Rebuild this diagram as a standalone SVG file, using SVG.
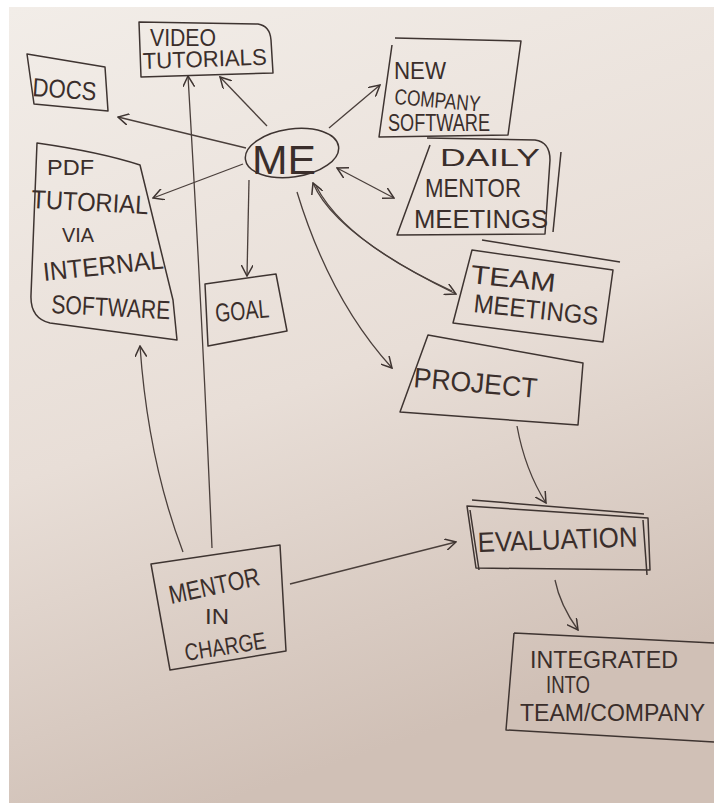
<svg xmlns="http://www.w3.org/2000/svg" width="714" height="803" viewBox="0 0 714 803">
<defs>
<linearGradient id="bg" x1="0" y1="0" x2="0.3" y2="1">
<stop offset="0" stop-color="#f2ede8"/>
<stop offset="0.55" stop-color="#e8ded7"/>
<stop offset="1" stop-color="#d0c0b6"/>
</linearGradient>
<marker id="ah" viewBox="0 0 12 12" refX="11" refY="6" markerWidth="12" markerHeight="12" markerUnits="userSpaceOnUse" orient="auto-start-reverse">
<path d="M0,0 L11,6 L0,12" fill="none" stroke="#3e3431" stroke-width="1.5"/>
</marker>
</defs>
<style>
.box{fill:none;stroke:#3e3431;stroke-width:1.5;stroke-linejoin:round}
.edge{fill:none;stroke:#4a3f3b;stroke-width:1.3}
.lbl{font-family:"Liberation Sans",Arial,sans-serif;fill:#3a2e2b;font-weight:normal}
</style>
<rect x="0" y="0" width="714" height="803" fill="#ffffff"/>
<rect x="9" y="7" width="705" height="796" fill="url(#bg)"/>

<g id="connectors">
<path class="edge" d="M246,148 L118,117" marker-end="url(#ah)"/>
<path class="edge" d="M243,164 L153,198" marker-end="url(#ah)"/>
<path class="edge" d="M267,126 L220,77" marker-end="url(#ah)"/>
<path class="edge" d="M212,548 Q203,330 188,76" marker-end="url(#ah)"/>
<path class="edge" d="M183,552 Q148,460 140,346" marker-end="url(#ah)"/>
<path class="edge" d="M329,128 L380,85" marker-end="url(#ah)"/>
<path class="edge" d="M337,168 L394,198" marker-start="url(#ah)" marker-end="url(#ah)"/>
<path class="edge" d="M313,183 Q335,235 456,294" marker-start="url(#ah)" marker-end="url(#ah)"/>
<path class="edge" d="M316,186 Q345,242 452,291"/>
<path class="edge" d="M297,192 Q330,300 392,368" marker-end="url(#ah)"/>
<path class="edge" d="M249,180 L247,276" marker-end="url(#ah)"/>
<path class="edge" d="M517,426 Q525,470 546,503" marker-end="url(#ah)"/>
<path class="edge" d="M290,584 L456,542" marker-end="url(#ah)"/>
<path class="edge" d="M555,580 Q560,605 578,630" marker-end="url(#ah)"/>
</g>

<g id="node-video">
<path class="box" d="M139,22 L258,24 Q270,26 271,40 L273,73 L141,77 Z"/>
<text class="lbl" x="150" y="46" font-size="23" textLength="66" lengthAdjust="spacingAndGlyphs">VIDEO</text>
<text class="lbl" x="143" y="69" font-size="23" textLength="124" lengthAdjust="spacingAndGlyphs" transform="rotate(-2 143 69)">TUTORIALS</text>
</g>

<g id="node-docs">
<path class="box" d="M27,54 L105,67 L108,111 L34,104 Z"/>
<text class="lbl" x="32" y="96" font-size="26" textLength="64" lengthAdjust="spacingAndGlyphs" transform="rotate(4 32 96)">DOCS</text>
</g>

<g id="node-newsoftware">
<path class="box" d="M395,38 L521,41 L508,135 L379,137 L392,45"/>
<text class="lbl" x="394" y="79" font-size="24" textLength="52" lengthAdjust="spacingAndGlyphs">NEW</text>
<text class="lbl" x="394" y="104" font-size="22" textLength="86" lengthAdjust="spacingAndGlyphs" transform="rotate(5 394 104)">COMPANY</text>
<text class="lbl" x="388" y="131" font-size="23" textLength="102" lengthAdjust="spacingAndGlyphs">SOFTWARE</text>
</g>

<g id="node-me">
<ellipse class="box" cx="292" cy="153" rx="47" ry="24" transform="rotate(-8 292 153)"/>
<text class="lbl" x="252" y="174" font-size="40" textLength="64" lengthAdjust="spacingAndGlyphs">ME</text>
</g>

<g id="node-daily">
<path class="box" d="M427,138 L535,140 Q550,142 550,160 L545,234 L397,235 L430,145"/>
<path class="box" d="M561,152 L553,232"/>
<text class="lbl" x="440" y="166" font-size="23" textLength="100" lengthAdjust="spacingAndGlyphs">DAILY</text>
<text class="lbl" x="425" y="197" font-size="26" textLength="96" lengthAdjust="spacingAndGlyphs">MENTOR</text>
<text class="lbl" x="414" y="228" font-size="26" textLength="134" lengthAdjust="spacingAndGlyphs">MEETINGS</text>
</g>

<g id="node-pdf">
<path class="box" d="M37,143 Q100,152 140,165 L173,300 L177,340 L50,323 Q30,318 31,295 Z"/>
<text class="lbl" x="47" y="175" font-size="22" textLength="47" lengthAdjust="spacingAndGlyphs">PDF</text>
<text class="lbl" x="31" y="208" font-size="26" textLength="117" lengthAdjust="spacingAndGlyphs" transform="rotate(3 31 208)">TUTORIAL</text>
<text class="lbl" x="62" y="242" font-size="20" textLength="32" lengthAdjust="spacingAndGlyphs">VIA</text>
<text class="lbl" x="44" y="281" font-size="26" textLength="121" lengthAdjust="spacingAndGlyphs" transform="rotate(-6 44 281)">INTERNAL</text>
<text class="lbl" x="51" y="313" font-size="26" textLength="119" lengthAdjust="spacingAndGlyphs" transform="rotate(3 51 313)">SOFTWARE</text>
</g>

<g id="node-goal">
<path class="box" d="M205,284 L276,274 L287,331 L208,346 Z"/>
<text class="lbl" x="216" y="322" font-size="26" textLength="54" lengthAdjust="spacingAndGlyphs" transform="rotate(-5 216 322)">GOAL</text>
</g>

<g id="node-team">
<path class="box" d="M472,250 L613,270 L603,342 L453,323 Z"/>
<path class="box" d="M482,240 L620,262"/>
<text class="lbl" x="470" y="283" font-size="26" textLength="85" lengthAdjust="spacingAndGlyphs" transform="rotate(6 470 283)">TEAM</text>
<text class="lbl" x="473" y="312" font-size="26" textLength="125" lengthAdjust="spacingAndGlyphs" transform="rotate(6 473 312)">MEETINGS</text>
</g>

<g id="node-project">
<path class="box" d="M428,335 L583,363 L578,425 L400,412 Z"/>
<text class="lbl" x="413" y="387" font-size="28" textLength="124" lengthAdjust="spacingAndGlyphs" transform="rotate(5 413 387)">PROJECT</text>
</g>

<g id="node-evaluation">
<path class="box" d="M467,506 L648,518 L650,570 L476,568 Z"/>
<path class="box" d="M472,500 L644,514 M643,520 L647,575 M470,510 L479,570"/>
<text class="lbl" x="478" y="552" font-size="28" textLength="160" lengthAdjust="spacingAndGlyphs" transform="rotate(-2 478 552)">EVALUATION</text>
</g>

<g id="node-mentor">
<path class="box" d="M151,564 L280,545 L286,651 L170,670 Z"/>
<text class="lbl" x="171" y="604" font-size="26" textLength="92" lengthAdjust="spacingAndGlyphs" transform="rotate(-12 171 604)">MENTOR</text>
<text class="lbl" x="205" y="624" font-size="22" textLength="24" lengthAdjust="spacingAndGlyphs">IN</text>
<text class="lbl" x="186" y="661" font-size="24" textLength="82" lengthAdjust="spacingAndGlyphs" transform="rotate(-9 186 661)">CHARGE</text>
</g>

<g id="node-integrated">
<path class="box" d="M514,633 L714,643 M514,633 L506,730 L714,742"/>
<text class="lbl" x="530" y="668" font-size="23" textLength="148" lengthAdjust="spacingAndGlyphs">INTEGRATED</text>
<text class="lbl" x="546" y="693" font-size="23" textLength="44" lengthAdjust="spacingAndGlyphs">INTO</text>
<text class="lbl" x="520" y="721" font-size="23" textLength="185" lengthAdjust="spacingAndGlyphs">TEAM/COMPANY</text>
</g>
</svg>
